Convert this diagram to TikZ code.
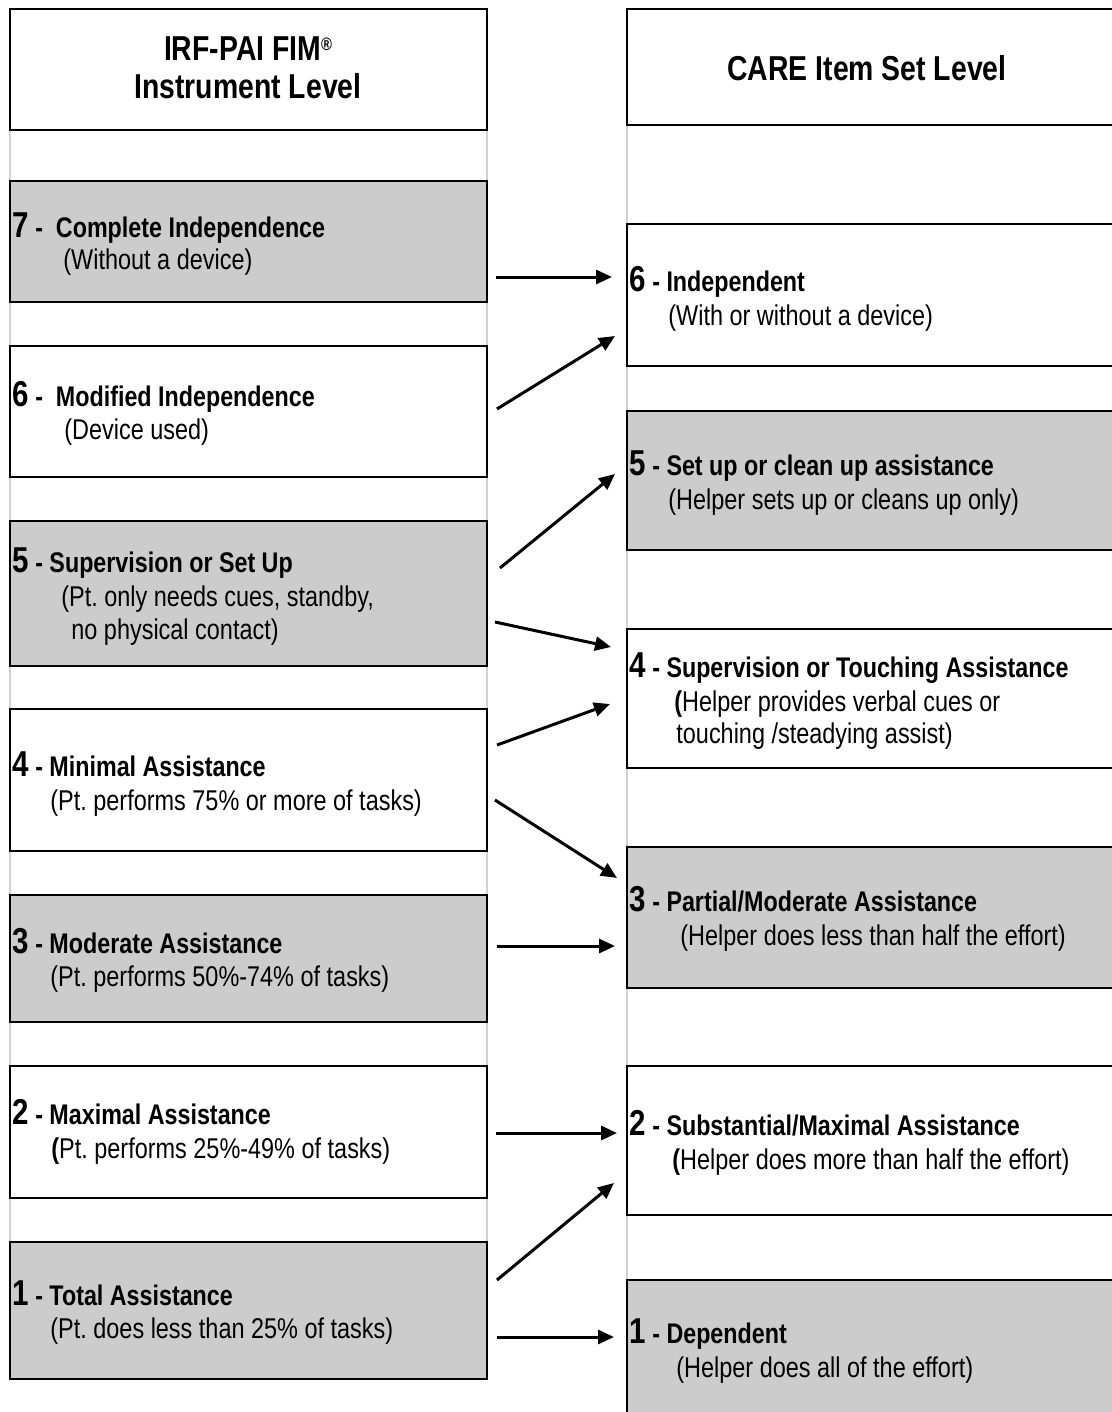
\documentclass[tikz,border=0pt]{standalone}
\usepackage{fontspec}
\setmainfont{Liberation Sans}[FakeStretch=0.82]
\usetikzlibrary{arrows.meta,fit}
\definecolor{boxgray}{HTML}{CCCCCC}
\definecolor{linegray}{HTML}{D2D2D2}
\newcommand\bignum[1]{{\fontsize{18}{20}\selectfont #1}}
\frenchspacing
\begin{document}
\begin{tikzpicture}[x=0.5pt,y=-0.5pt,
 box/.style={draw=black,line width=1pt,inner sep=0pt,outer sep=0pt},
 gbox/.style={box,fill=boxgray},
 wbox/.style={box,fill=white},
 colline/.style={draw=linegray,line width=0.6pt},
 ttl/.style={anchor=base west,inner sep=0pt,font=\fontsize{14.2}{16}\selectfont\bfseries},
 sub/.style={anchor=base west,inner sep=0pt,font=\fontsize{14.3}{16}\selectfont},
 hdr/.style={anchor=base,inner sep=0pt,font=\fontsize{17.3}{19}\selectfont\bfseries},
 arr/.style={line width=1.5pt,-{Triangle[length=8pt,width=7pt]}}
]
\clip (0,0) rectangle (1112,1412);
\fill[white] (0,0) rectangle (1112,1412);
% column lines
\draw[colline] (10,9) -- (10,1379);
\draw[colline] (487,9) -- (487,1379);
\draw[colline] (627,9) -- (627,1412);
% left boxes
\node[wbox,fit={(10,9)(487,130)}] (LH) {};
\node[gbox,fit={(10,181)(487,302)}] (L7) {};
\node[wbox,fit={(10,346)(487,477)}] (L6) {};
\node[gbox,fit={(10,521)(487,666)}] (L5) {};
\node[wbox,fit={(10,709)(487,851)}] (L4) {};
\node[gbox,fit={(10,895)(487,1022)}] (L3) {};
\node[wbox,fit={(10,1066)(487,1198)}] (L2) {};
\node[gbox,fit={(10,1242)(487,1379)}] (L1) {};
% right boxes
\node[wbox,fit={(627,9)(1130,125)}] (RH) {};
\node[wbox,fit={(627,224)(1130,366)}] (R6) {};
\node[gbox,fit={(627,411)(1130,550)}] (R5) {};
\node[wbox,fit={(627,629)(1130,768)}] (R4) {};
\node[gbox,fit={(627,847)(1130,988)}] (R3) {};
\node[wbox,fit={(627,1066)(1130,1215)}] (R2) {};
\node[gbox,fit={(627,1280)(1130,1430)}] (R1) {};
% headers
\node[hdr] (lh1) at (248,61) {IRF-PAI FIM{\fontsize{9}{9}\selectfont\raisebox{0.6em}{®}}};
\node[hdr] (lh2) at (248,99) {Instrument Level};
\node[hdr] (rh1) at (867,81) {CARE Item Set Level};
% left texts
\node[ttl] (t7) at (12,237) {\bignum{7} -~~Complete Independence};
\node[sub] (s7) at (63,270) {(Without a device)};
\node[ttl] (t6) at (12,406) {\bignum{6} -~~Modified Independence};
\node[sub] (s6) at (64,439) {(Device used)};
\node[ttl] (t5) at (12,572) {\bignum{5} - Supervision or Set Up};
\node[sub] (s5a) at (61,606) {(Pt. only needs cues, standby,};
\node[sub] (s5b) at (71,639) {no physical contact)};
\node[ttl] (t4) at (12,776) {\bignum{4} - Minimal Assistance};
\node[sub] (s4) at (50,810) {(Pt. performs 75\% or more of tasks)};
\node[ttl] (t3) at (12,953) {\bignum{3} - Moderate Assistance};
\node[sub] (s3) at (50,986) {(Pt. performs 50\%-74\% of tasks)};
\node[ttl] (t2) at (12,1124) {\bignum{2} - Maximal Assistance};
\node[sub] (s2) at (51,1158) {\textbf{(}Pt. performs 25\%-49\% of tasks)};
\node[ttl] (t1) at (12,1305) {\bignum{1} - Total Assistance};
\node[sub] (s1) at (50,1338) {(Pt. does less than 25\% of tasks)};
% right texts
\node[ttl] (u6) at (629,291) {\bignum{6} - Independent};
\node[sub] (v6) at (668,325) {(With or without a device)};
\node[ttl] (u5) at (629,475) {\bignum{5} - Set up or clean up assistance};
\node[sub] (v5) at (668,509) {(Helper sets up or cleans up only)};
\node[ttl] (u4) at (629,677) {\bignum{4} - Supervision or Touching Assistance};
\node[sub] (v4a) at (674,711) {\textbf{(}Helper provides verbal cues or};
\node[sub] (v4b) at (676,743) {touching /steadying assist)};
\node[ttl] (u3) at (629,911) {\bignum{3} - Partial/Moderate Assistance};
\node[sub] (v3) at (680,945) {(Helper does less than half the effort)};
\node[ttl] (u2) at (629,1135) {\bignum{2} - Substantial/Maximal Assistance};
\node[sub] (v2) at (672,1169) {\textbf{(}Helper does more than half the effort)};
\node[ttl] (u1) at (629,1343) {\bignum{1} - Dependent};
\node[sub] (v1) at (676,1377) {(Helper does all of the effort)};
% arrow end points
\coordinate (a1s) at (496,277);  \coordinate (a1e) at (612,277);
\coordinate (a2s) at (497,409);  \coordinate (a2e) at (615,336);
\coordinate (a3s) at (500,568);  \coordinate (a3e) at (615,474);
\coordinate (a4s) at (495,622);  \coordinate (a4e) at (611,647);
\coordinate (a5s) at (497,745);  \coordinate (a5e) at (610,704);
\coordinate (a6s) at (495,800);  \coordinate (a6e) at (617,878);
\coordinate (a7s) at (497,946);  \coordinate (a7e) at (615,946);
\coordinate (a8s) at (496,1133); \coordinate (a8e) at (617,1133);
\coordinate (a9s) at (497,1280); \coordinate (a9e) at (614,1183);
\coordinate (a10s) at (497,1337); \coordinate (a10e) at (614,1337);
\foreach \i in {1,...,10} {\draw[arr] (a\i s) -- (a\i e);}
\end{tikzpicture}
\end{document}
